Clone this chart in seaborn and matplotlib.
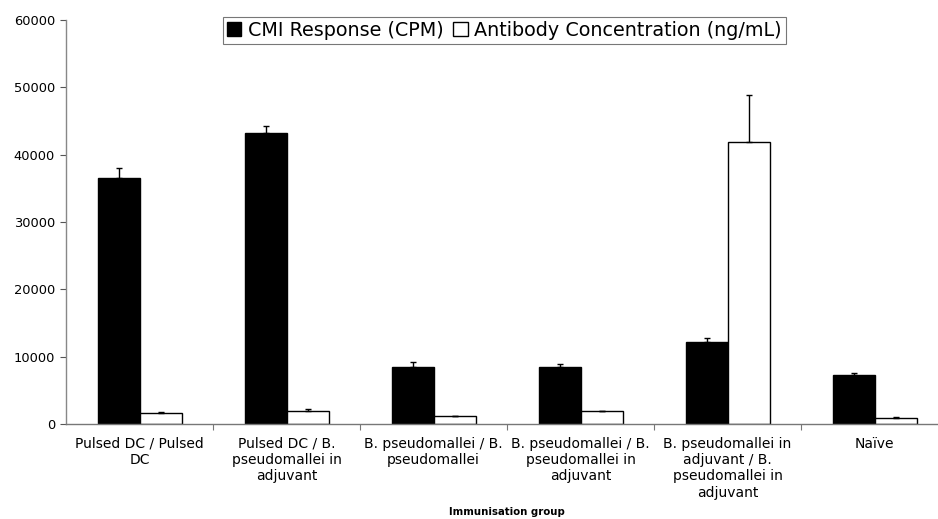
import matplotlib
matplotlib.use("Agg")
import matplotlib.pyplot as plt
import seaborn as sns
import pandas as pd
import numpy as np
from matplotlib.ticker import FixedLocator

groups = [
    "Pulsed DC / Pulsed\nDC",
    "Pulsed DC / B.\npseudomallei in\nadjuvant",
    "B. pseudomallei / B.\npseudomallei",
    "B. pseudomallei / B.\npseudomallei in\nadjuvant",
    "B. pseudomallei in\nadjuvant / B.\npseudomallei in\nadjuvant",
    "Naïve",
]
series = ["CMI Response (CPM)", "Antibody Concentration (ng/mL)"]
cmi = [36500, 43250, 8500, 8500, 12200, 7350]
cmi_err = [1500, 1000, 750, 350, 650, 200]
antibody = [1700, 1900, 1150, 1900, 41900, 950]
antibody_err = [150, 350, 100, 100, 7000, 150]

df = pd.DataFrame({
    "group": groups * 2,
    "series": [series[0]] * len(groups) + [series[1]] * len(groups),
    "value": cmi + antibody,
})
errs = cmi_err + antibody_err

sns.set_style("white")
plt.rcParams["font.family"] = ["DejaVu Sans"]
plt.rcParams["text.color"] = "black"
plt.rcParams["xtick.color"] = "black"
plt.rcParams["ytick.color"] = "black"

fig = plt.figure(figsize=(9.38, 5.19), dpi=100)
ax = fig.add_axes([0.0704, 0.183, 0.9403, 0.7784])

sns.barplot(data=df, x="group", y="value", hue="series", order=groups,
            hue_order=series, palette=["black", "white"], width=0.571,
            edgecolor="black", linewidth=1.0, errorbar=None, gap=0, ax=ax)

# upper-only error bars, placed from the drawn bar rectangles
bars = [p for p in ax.patches if p.get_height() > 0][:len(errs)]
for p, e in zip(bars, errs):
    xc = p.get_x() + p.get_width() / 2
    h = p.get_height()
    ax.errorbar(xc, h, yerr=[[0], [e]], fmt="none", ecolor="black",
                elinewidth=1.0, capsize=2.5, capthick=1.0, zorder=3)

ax.set_xlim(-0.5, len(groups) - 0.5)
ax.set_ylim(0, 60000)
ax.set_yticks(np.arange(0, 60001, 10000))
ax.tick_params(axis="y", labelsize=9.4, length=4, width=0.8, color="#555555",
               labelcolor="black", direction="out", left=True, pad=4)
ax.tick_params(axis="x", which="major", length=0, labelsize=10, pad=9,
               labelcolor="black")
ax.xaxis.set_minor_locator(FixedLocator(np.arange(0.5, len(groups) - 0.5, 1)))
ax.tick_params(axis="x", which="minor", length=4, width=0.8, color="#777777",
               bottom=True, direction="out")
for lbl in ax.get_xticklabels():
    lbl.set_linespacing(1.22)

ax.set_xlabel("Immunisation group", fontsize=7.3, fontweight="bold",
              color="black")
ax.xaxis.set_label_coords(0.5, -0.205)
ax.set_ylabel("")

for s in ["top", "right"]:
    ax.spines[s].set_visible(False)
ax.spines["left"].set_color("#888888")
ax.spines["left"].set_linestyle((0, (1, 1)))
ax.spines["left"].set_linewidth(1.0)
ax.spines["bottom"].set_color("#777777")
ax.spines["bottom"].set_linewidth(1.0)

leg = ax.legend(loc="upper left", bbox_to_anchor=(223 / 938, 1 - 17 / 519),
                bbox_transform=fig.transFigure, ncol=2,
                fontsize=13.8, frameon=True, fancybox=False, handlelength=0.75,
                handleheight=0.75, handletextpad=0.35, columnspacing=0.5,
                borderpad=0.2, borderaxespad=0, labelcolor="black")
leg.get_frame().set_edgecolor("#555555")
leg.get_frame().set_linewidth(0.8)
leg.set_title(None)

fig.savefig("out.png", dpi=100)
